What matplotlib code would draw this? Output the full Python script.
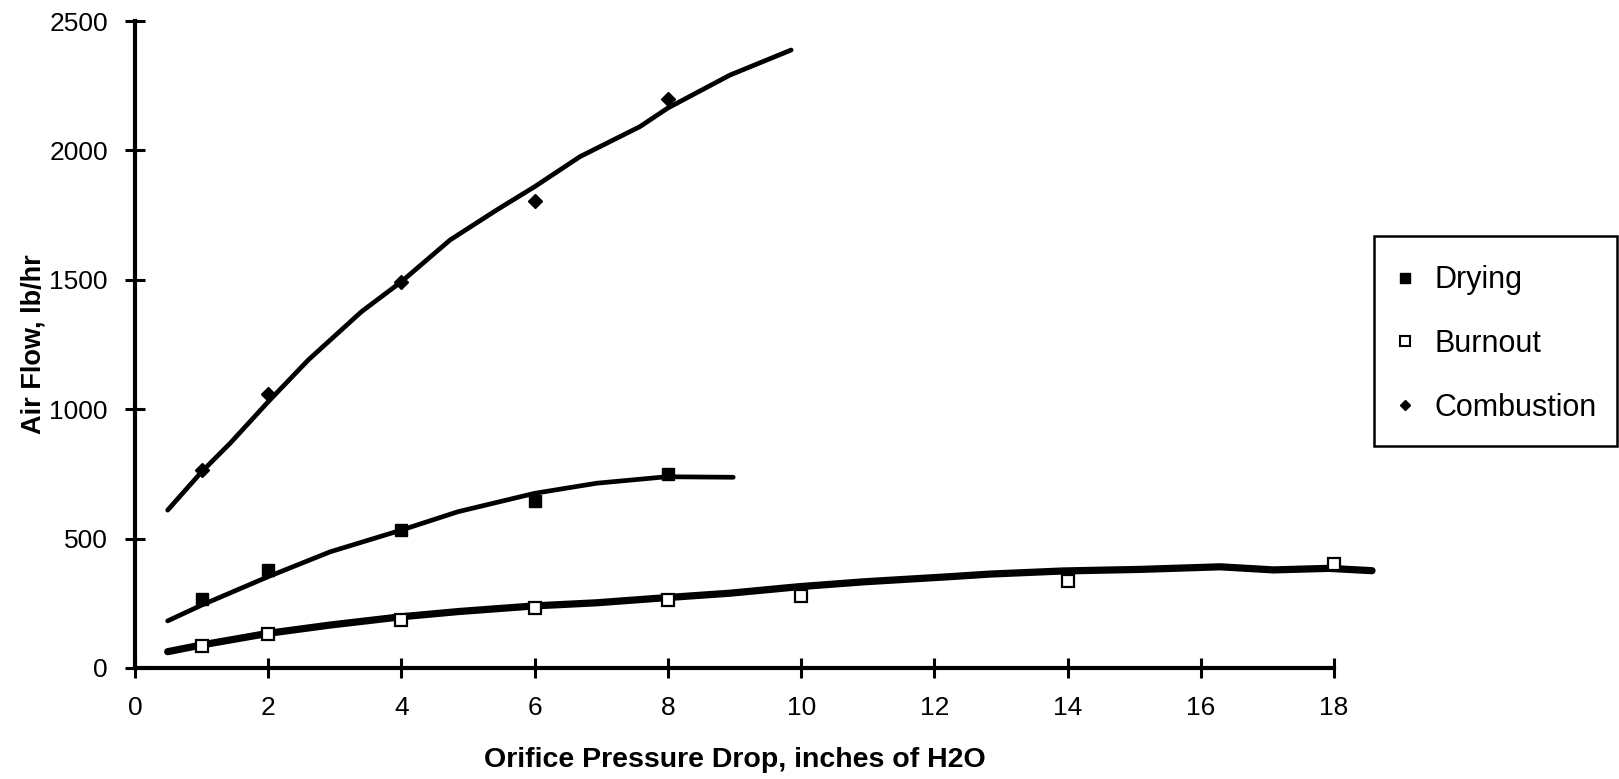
import matplotlib
matplotlib.use("Agg")
import matplotlib.pyplot as plt
from matplotlib.lines import Line2D
from matplotlib.patches import Rectangle

FONT = ["Liberation Sans", "DejaVu Sans"]

# measured points: orifice pressure drop (in. H2O) vs air flow (lb/hr)
drop_pts = [1, 2, 4, 6, 8]
drying_flow = [265, 380, 535, 645, 750]
combustion_flow = [765, 1060, 1490, 1805, 2200]

burnout_drop = [1, 2, 4, 6, 8, 10, 14, 18]
burnout_flow = [85, 130, 185, 230, 262, 278, 335, 400]

# hand-drawn trend curves through each set
combustion_curve_x = [0.49, 1.0, 1.43, 2.0, 2.6, 3.4, 4.0, 4.73, 5.43, 6.0,
                      6.68, 7.58, 8.0, 8.93, 9.85]
combustion_curve_y = [610, 758, 869, 1029, 1190, 1377, 1493, 1654, 1770, 1860,
                      1976, 2092, 2164, 2291, 2388]

drying_curve_x = [0.49, 1.0, 2.0, 2.93, 4.0, 4.85, 6.0, 6.93, 7.98, 8.98]
drying_curve_y = [182, 243, 353, 449, 533, 604, 675, 714, 739, 737]

burnout_curve_x = [0.49, 1.0, 2.0, 2.93, 4.0, 4.85, 6.0, 6.93, 7.98, 8.93,
                   9.96, 10.94, 12.24, 12.84, 13.94, 15.09, 16.29, 17.09,
                   17.92, 18.57]
burnout_curve_y = [63, 89, 134, 166, 198, 218, 240, 252, 272, 289,
                   314, 333, 353, 363, 375, 381, 391, 379,
                   385, 376]

W, H = 1619, 779
fig = plt.figure(figsize=(W / 100, H / 100), dpi=100)
ax = fig.add_axes([0.0834, 0.1425, 0.7406, 0.8305])

line_kw = dict(color="black", solid_capstyle="round", solid_joinstyle="round",
               clip_on=False, zorder=2)
ax.plot(combustion_curve_x, combustion_curve_y, lw=3.4, **line_kw)
ax.plot(drying_curve_x, drying_curve_y, lw=3.4, **line_kw)
ax.plot(burnout_curve_x, burnout_curve_y, lw=5.2, **line_kw)

ax.plot(drop_pts, drying_flow, ls="none", marker="s", ms=8.5,
        mfc="black", mec="black", zorder=3)
ax.plot(burnout_drop, burnout_flow, ls="none", marker="s", ms=8.5,
        mfc="white", mec="black", mew=1.6, zorder=3, clip_on=False)
ax.plot(drop_pts, combustion_flow, ls="none", marker="D", ms=7,
        mfc="black", mec="black", zorder=3)

ax.set_xlim(0, 18)
ax.set_ylim(0, 2500)
ax.set_xticks(range(0, 19, 2))
ax.set_yticks(range(0, 2501, 500))

for side in ("top", "right"):
    ax.spines[side].set_visible(False)
for side in ("left", "bottom"):
    ax.spines[side].set_linewidth(3.0)

ax.tick_params(direction="inout", length=14, width=2.2, labelsize=19)
ax.tick_params(axis="y", pad=12.5)
ax.tick_params(axis="x", pad=13)
for lab in ax.get_xticklabels() + ax.get_yticklabels():
    lab.set_family(FONT)

ax.set_xlabel("Orifice Pressure Drop, inches of H2O", fontsize=20.5,
              fontweight="bold", family=FONT, labelpad=19.5)
ax.set_ylabel("Air Flow, lb/hr", fontsize=19.5, fontweight="bold",
              family=FONT, labelpad=2)

# legend box drawn by hand so its size can be set exactly
fig.patches.append(Rectangle((1374 / W, 1 - 446 / H), 243 / W, 210 / H,
                             transform=fig.transFigure, fill=False,
                             edgecolor="black", linewidth=1.8))
handles = [
    Line2D([0], [0], ls="none", marker="s", ms=7, mfc="black", mec="black",
           label="Drying"),
    Line2D([0], [0], ls="none", marker="s", ms=7, mfc="white", mec="black",
           mew=1.5, label="Burnout"),
    Line2D([0], [0], ls="none", marker="D", ms=5.5, mfc="black", mec="black",
           label="Combustion"),
]
fig.legend(handles=handles, loc="center left",
           bbox_to_anchor=(1390 / W, 1 - 344 / H),
           prop={"family": FONT, "size": 22}, frameon=False,
           handlelength=1.0, handletextpad=0.47, labelspacing=1.1,
           borderpad=0, borderaxespad=0)

fig.savefig("out.png", dpi=100)
